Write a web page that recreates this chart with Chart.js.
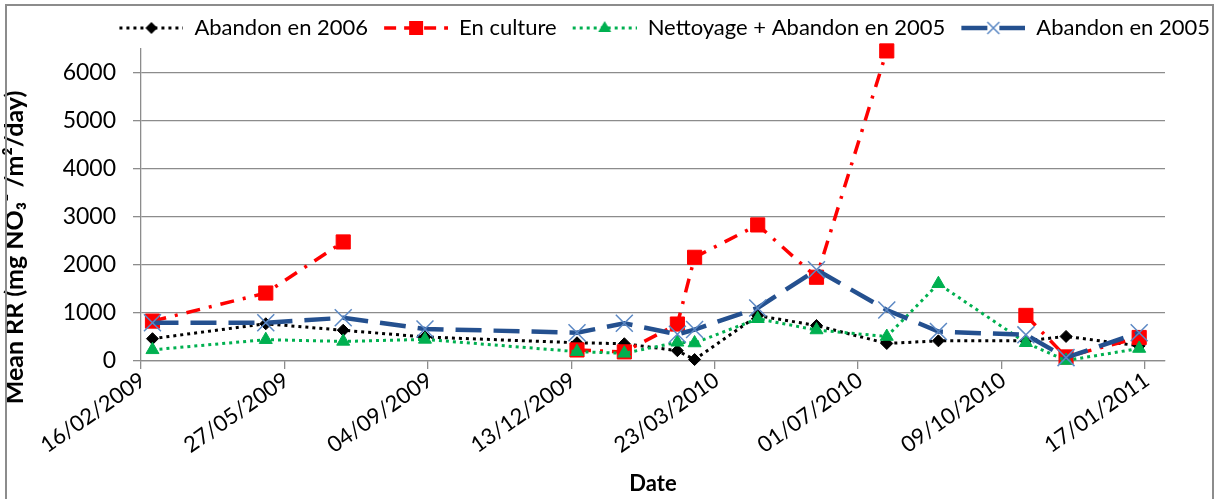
<!DOCTYPE html>
<html>
<head>
<meta charset="utf-8">
<script src="https://cdn.jsdelivr.net/npm/chart.js@4.4.0/dist/chart.umd.min.js"></script>
<style>
html, body { margin: 0; padding: 0; background: #fff; }
</style>
</head>
<body>
<canvas id="myChart" width="1218" height="499"></canvas>
<script>
// sampling dates (dd/mm/yyyy)
var sampleDates = ['24/02/2009', '14/05/2009', '07/07/2009', '02/09/2009', '17/12/2009',
    '19/01/2010', '25/02/2010', '09/03/2010', '22/04/2010', '02/06/2010',
    '21/07/2010', '26/08/2010', '26/10/2010', '23/11/2010', '13/01/2011'];

// mean RR, mg NO3- /m2/day
var abandon2006 = [465, 776, 641, 500, 380, 360, 215, 30, 945, 740, 365, 420, 420, 512, 315];
var enCulture = [831, 1416, 2480, null, 230, 190, 770, 2160, 2835, 1745, 6460, null, 950, 85, 490];
var nettoyage2005 = [233, 444, 408, 450, 195, 160, 390, 375, 880, 646, 510, 1610, 380, 10, 260];
var abandon2005 = [797, 797, 900, 668, 590, 785, 556, 655, 1105, 1900, 1063, 614, 545, 70, 590];

var seriesNames = ['Abandon en 2006', 'En culture', 'Nettoyage + Abandon en 2005', 'Abandon en 2005'];
var xTickLabels = ['16/02/2009', '27/05/2009', '04/09/2009', '13/12/2009', '23/03/2010', '01/07/2010', '09/10/2010', '17/01/2011'];
var yTickValues = [0, 1000, 2000, 3000, 4000, 5000, 6000];

function toDay(s) {
    var p = s.split('/');
    return Math.round(Date.UTC(+p[2], +p[1] - 1, +p[0]) / 86400000);
}

function points(values) {
    return sampleDates.map(function (d, i) {
        return { x: toDay(d), y: values[i] };
    });
}

var xMin = toDay(xTickLabels[0]);
var xMax = toDay(xTickLabels[xTickLabels.length - 1]) + 14;

var styles = [
    { color: '#000000', dash: [3, 4], width: 3, marker: 'rectRot', mColor: '#000000', mBorder: '#000000', r: 6 },
    { color: '#ff0000', dash: [14, 9, 3, 9], width: 3.5, marker: 'rect', mColor: '#ff0000', mBorder: '#ff0000', r: 10 },
    { color: '#00b050', dash: [3, 4], width: 3, marker: 'triangle', mColor: '#00b050', mBorder: '#00b050', r: 7.5 },
    { color: '#24508f', dash: [26, 12], width: 4.5, marker: 'crossRot', mColor: '#5b88c4', mBorder: '#5b88c4', r: 12 }
];

// small picture of line + marker for the legend
function legendIcon(st) {
    var c = document.createElement('canvas');
    c.width = 72; c.height = 22;
    var g = c.getContext('2d');
    var cx = 40, cy = 11;
    g.strokeStyle = st.color;
    g.lineWidth = st.width;
    g.setLineDash(st.dash.length > 2 ? [12, 8] : st.dash);
    g.beginPath(); g.moveTo(8, cy); g.lineTo(72, cy); g.stroke();
    g.setLineDash([]);
    g.fillStyle = st.mColor;
    g.strokeStyle = st.mBorder;
    g.lineWidth = 1;
    g.beginPath();
    if (st.marker === 'rectRot') {
        g.moveTo(cx, cy - 6); g.lineTo(cx + 6, cy); g.lineTo(cx, cy + 6); g.lineTo(cx - 6, cy); g.closePath(); g.fill();
    } else if (st.marker === 'rect') {
        g.rect(cx - 7, cy - 7, 14, 14); g.fill();
    } else if (st.marker === 'triangle') {
        g.moveTo(cx, cy - 7); g.lineTo(cx + 6.5, cy + 4); g.lineTo(cx - 6.5, cy + 4); g.closePath(); g.fill();
    } else {
        g.lineWidth = 1.5;
        g.moveTo(cx - 6, cy - 6); g.lineTo(cx + 6, cy + 6);
        g.moveTo(cx + 6, cy - 6); g.lineTo(cx - 6, cy + 6); g.stroke();
    }
    return c;
}

var allValues = [abandon2006, enCulture, nettoyage2005, abandon2005];
var datasets = allValues.map(function (vals, i) {
    var st = styles[i];
    return {
        label: seriesNames[i],
        data: points(vals),
        borderColor: st.color,
        borderWidth: st.width,
        borderDash: st.dash,
        borderCapStyle: 'butt',
        backgroundColor: st.mColor,
        pointStyle: st.marker,
        pointRadius: st.r,
        pointHoverRadius: st.r,
        pointBackgroundColor: st.mColor,
        pointBorderColor: st.mBorder,
        pointBorderWidth: st.marker === 'crossRot' ? 1.5 : 1,
        tension: 0,
        spanGaps: false,
        clip: false,
        order: 4 - i,
        legendIcon: legendIcon(st)
    };
});

var frame = {
    id: 'frame',
    beforeDraw: function (chart) {
        var c = chart.ctx;
        c.save();
        c.fillStyle = '#ffffff';
        c.fillRect(0, 0, chart.width, chart.height);
        c.restore();
    },
    afterDraw: function (chart) {
        var c = chart.ctx;
        c.save();
        c.strokeStyle = '#8c8c8c';
        c.lineWidth = 2;
        c.strokeRect(6, 5, chart.width - 11, chart.height - 4);
        c.restore();
    }
};

var font = "Lato, 'DejaVu Sans', sans-serif";
var ctx = document.getElementById('myChart').getContext('2d');
var myChart = new Chart(ctx, {
    type: 'line',
    data: { datasets: datasets },
    plugins: [frame],
    options: {
        responsive: false,
        animation: false,
        events: [],
        layout: { padding: { top: 5, left: 0, right: 0, bottom: 0 } },
        plugins: {
            tooltip: { enabled: false },
            legend: {
                align: 'end',
                maxHeight: 44,
                labels: {
                    usePointStyle: true,
                    pointStyleWidth: 72,
                    padding: 8,
                    color: '#000',
                    font: { family: font, size: 22 },
                    sort: function (a, b) { return a.datasetIndex - b.datasetIndex; },
                    generateLabels: function (chart) {
                        var items = Chart.defaults.plugins.legend.labels.generateLabels(chart);
                        items.forEach(function (it) {
                            it.pointStyle = chart.data.datasets[it.datasetIndex].legendIcon;
                        });
                        return items;
                    }
                }
            }
        },
        scales: {
            x: {
                type: 'linear',
                position: 'bottom',
                min: xMin,
                max: xMax,
                afterBuildTicks: function (scale) {
                    scale.ticks = xTickLabels.map(function (l) { return { value: toDay(l) }; });
                },
                afterFit: function (scale) {
                    scale.height = 138;
                    scale.paddingRight = 53;
                    scale.paddingLeft = 0;
                },
                grid: { drawOnChartArea: false, color: '#8c8c8c', lineWidth: 1.3, tickLength: 8 },
                border: { color: '#8c8c8c', width: 1.3 },
                ticks: {
                    autoSkip: false,
                    minRotation: 35,
                    maxRotation: 35,
                    padding: -2,
                    labelOffset: 2,
                    color: '#000',
                    font: { family: font, size: 22 },
                    callback: function (v) {
                        for (var i = 0; i < xTickLabels.length; i++) {
                            if (toDay(xTickLabels[i]) === v) return xTickLabels[i];
                        }
                        return '';
                    }
                },
                title: {
                    display: true,
                    text: 'Date',
                    color: '#000',
                    font: { family: font, size: 22, weight: 'bold' },
                    padding: { top: 0, bottom: 2 }
                }
            },
            y: {
                min: 0,
                max: 6500,
                afterBuildTicks: function (scale) {
                    scale.ticks = yTickValues.map(function (v) { return { value: v }; });
                },
                afterFit: function (scale) {
                    scale.width = 141;
                    scale.paddingTop = 49;
                    scale.paddingBottom = 0;
                },
                grid: { color: '#8c8c8c', lineWidth: 1.3, tickLength: 8 },
                border: { color: '#8c8c8c', width: 1.3 },
                ticks: {
                    padding: 17,
                    color: '#000',
                    font: { family: font, size: 23 },
                    callback: function (v) { return String(v); }
                },
                title: {
                    display: true,
                    text: 'Mean RR (mg NO\u2083\u207B /m\u00B2/day)              ',
                    color: '#000',
                    font: { family: font, size: 25, weight: 'bold' },
                    padding: { top: 0, bottom: 0 }
                }
            }
        }
    }
});
</script>
</body>
</html>
